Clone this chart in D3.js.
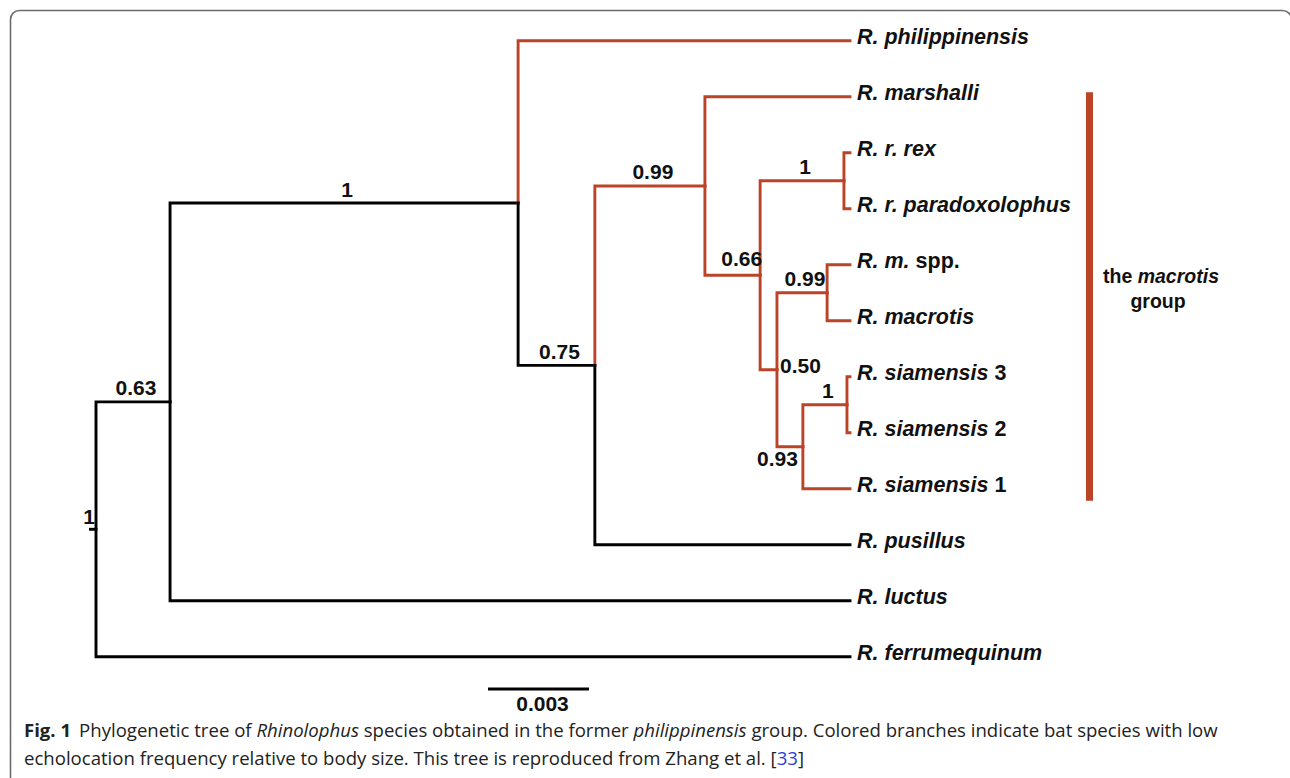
<!DOCTYPE html>
<html>
<head>
<meta charset="utf-8">
<script src="https://cdn.jsdelivr.net/npm/d3@7"></script>
<style>
  body { margin: 0; background: #fff; }
</style>
</head>
<body>
<div id="c1"></div>
<script>
// Branches: [node, parent, branch length]
var branches = [
    ["root", null, 0],
    ["n063", "root", 0.00220],
    ["n1a", "n063", 0.01034],
    ["R. philippinensis", "n1a", 0.00986],
    ["n075", "n1a", 0.00228],
    ["n099a", "n075", 0.00327],
    ["R. marshalli", "n099a", 0.00431],
    ["n066", "n099a", 0.00164],
    ["n1b", "n066", 0.00249],
    ["R. r. rex", "n1b", 0.00018],
    ["R. r. paradoxolophus", "n1b", 0.00018],
    ["n050", "n066", 0.00050],
    ["n099b", "n050", 0.00149],
    ["R. m. spp.", "n099b", 0.00068],
    ["R. macrotis", "n099b", 0.00068],
    ["n093", "n050", 0.00077],
    ["n1c", "n093", 0.00131],
    ["R. siamensis 3", "n1c", 0.00009],
    ["R. siamensis 2", "n1c", 0.00009],
    ["R. siamensis 1", "n093", 0.00140],
    ["R. pusillus", "n075", 0.00758],
    ["R. luctus", "n063", 0.02020],
    ["R. ferrumequinum", "root", 0.02240]
];

// Posterior support of internal nodes
var supports = {
    root: "1", n063: "0.63", n1a: "1", n075: "0.75", n099a: "0.99",
    n066: "0.66", n1b: "1", n050: "0.50", n099b: "0.99", n093: "0.93", n1c: "1"
};

// Clades with low echolocation frequency (colored)
var lowFreq = ["R. philippinensis", "n099a"];
var macrotisGroup = ["R. marshalli", "R. siamensis 1"];
var scaleBar = 0.003;

var W = 1290, H = 778;
var red = "#bb4428";
var sans = "Liberation Sans, Arial, sans-serif";

var svg = d3.select("#c1").append("svg")
    .attr("width", W)
    .attr("height", H);

// Frame
svg.append("rect")
    .attr("x", 10.5).attr("y", 10.5)
    .attr("width", 1281).attr("height", 790)
    .attr("rx", 9)
    .attr("fill", "none")
    .attr("stroke", "#6b6b6b")
    .attr("stroke-width", 1.6);

// Build the tree
var root = d3.stratify()
    .id(function (d) { return d[0]; })
    .parentId(function (d) { return d[1]; })(branches);

root.eachBefore(function (d) {
    d.len = d.parent ? d.parent.len + d.data[2] : 0;
    d.red = lowFreq.indexOf(d.id) >= 0 || (d.parent && d.parent.red);
});

var leaves = root.leaves();
var x = d3.scaleLinear()
    .domain([0, d3.max(leaves, function (d) { return d.len; })])
    .range([96, 850]);
var y = d3.scalePoint()
    .domain(leaves.map(function (d) { return d.id; }))
    .range([40.7, 656.7]);

root.eachAfter(function (d) {
    d.px = x(d.len);
    if (d.children) {
        d.py = (d.children[0].py + d.children[d.children.length - 1].py) / 2;
    } else {
        d.py = y(d.id);
    }
});

// Branches (elbow)
svg.append("g").selectAll("path")
    .data(root.descendants().slice(1))
    .enter().append("path")
    .attr("d", function (d) {
        return "M" + d.parent.px + "," + d.parent.py + "V" + d.py + "H" + d.px;
    })
    .attr("fill", "none")
    .attr("stroke", function (d) { return d.red ? red : "#000"; })
    .attr("stroke-width", 2.9)
    .attr("stroke-linecap", "square");

// Root stub
svg.append("line")
    .attr("x1", root.px - 7).attr("x2", root.px)
    .attr("y1", root.py).attr("y2", root.py)
    .attr("stroke", "#000").attr("stroke-width", 2.9);

// Support labels
var place = { root: "stub", n066: "end", n050: "right", n093: "below" };
svg.append("g").selectAll("text")
    .data(root.descendants().filter(function (d) { return d.children; }))
    .enter().append("text")
    .attr("font-family", sans)
    .attr("font-weight", "bold")
    .attr("font-size", 21)
    .attr("fill", "#111")
    .each(function (d) {
        var t = d3.select(this), p = place[d.id];
        if (p === "stub") {
            t.attr("x", d.px - 1).attr("y", d.py - 5).attr("text-anchor", "end");
        } else if (p === "end") {
            t.attr("x", d.px + 2).attr("y", d.py - 9).attr("text-anchor", "end");
        } else if (p === "right") {
            t.attr("x", d.px + 3).attr("y", d.py + 3).attr("text-anchor", "start");
        } else if (p === "below") {
            t.attr("x", d.px - 5).attr("y", d.py + 19.5).attr("text-anchor", "end");
        } else {
            t.attr("x", (d.parent.px + d.px) / 2 + 3).attr("y", d.py - 6.5).attr("text-anchor", "middle");
        }
    })
    .text(function (d) { return supports[d.id]; });

// Leaf labels
var tips = svg.append("g").selectAll("text")
    .data(leaves)
    .enter().append("text")
    .attr("x", function (d) { return d.px + 7; })
    .attr("y", function (d) { return d.py + 3; })
    .attr("font-family", sans)
    .attr("font-weight", "bold")
    .attr("font-size", 21.5)
    .attr("fill", "#111");

tips.each(function (d) {
    var m = d.id.match(/^(.*?)( spp\.| \d)?$/);
    var t = d3.select(this);
    t.append("tspan").attr("font-style", "italic").text(m[1]);
    if (m[2]) t.append("tspan").text(m[2]);
});

// the macrotis group bar
var g1 = y(macrotisGroup[0]), g2 = y(macrotisGroup[1]);
svg.append("line")
    .attr("x1", 1089.5).attr("x2", 1089.5)
    .attr("y1", g1 - 4.5).attr("y2", g2 + 12)
    .attr("stroke", red)
    .attr("stroke-width", 7);

var gl = svg.append("text")
    .attr("x", 1161)
    .attr("y", (g1 + g2) / 2 - 10)
    .attr("text-anchor", "middle")
    .attr("font-family", sans)
    .attr("font-weight", "bold")
    .attr("font-size", 19.5)
    .attr("fill", "#111");
gl.append("tspan").text("the ");
gl.append("tspan").attr("font-style", "italic").text("macrotis");
svg.append("text")
    .attr("x", 1158)
    .attr("y", (g1 + g2) / 2 + 15)
    .attr("text-anchor", "middle")
    .attr("font-family", sans)
    .attr("font-weight", "bold")
    .attr("font-size", 19.5)
    .attr("fill", "#111")
    .text("group");

// Scale bar
var sb0 = 488;
svg.append("line")
    .attr("x1", sb0).attr("x2", sb0 + x(scaleBar) - x(0))
    .attr("y1", 689).attr("y2", 689)
    .attr("stroke", "#000").attr("stroke-width", 3);
svg.append("text")
    .attr("x", sb0 + (x(scaleBar) - x(0)) / 2 + 4)
    .attr("y", 711)
    .attr("text-anchor", "middle")
    .attr("font-family", sans)
    .attr("font-weight", "bold")
    .attr("font-size", 21)
    .attr("fill", "#111")
    .text(scaleBar);

// Caption
var cap1 = svg.append("text")
    .attr("x", 24).attr("y", 737)
    .attr("font-family", "Open Sans, sans-serif")
    .attr("font-size", 16)
    .attr("fill", "#222");
cap1.append("tspan").attr("font-weight", "bold").text("Fig. 1");
cap1.append("tspan").attr("dx", 8).text("Phylogenetic tree of ");
cap1.append("tspan").attr("font-style", "italic").text("Rhinolophus");
cap1.append("tspan").text(" species obtained in the former ");
cap1.append("tspan").attr("font-style", "italic").text("philippinensis");
cap1.append("tspan").text(" group. Colored branches indicate bat species with low");

var cap2 = svg.append("text")
    .attr("x", 24).attr("y", 765)
    .attr("font-family", "Open Sans, sans-serif")
    .attr("font-size", 16)
    .attr("fill", "#222");
cap2.append("tspan").text("echolocation frequency relative to body size. This tree is reproduced from Zhang et al. [");
cap2.append("tspan").attr("fill", "#2b3de0").text("33");
cap2.append("tspan").text("]");

// Fit caption font to the figure width
var w1 = cap1.node().getComputedTextLength();
var fs = 16 * 1187 / w1;
cap1.attr("font-size", fs);
cap2.attr("font-size", fs);
</script>
</body>
</html>
